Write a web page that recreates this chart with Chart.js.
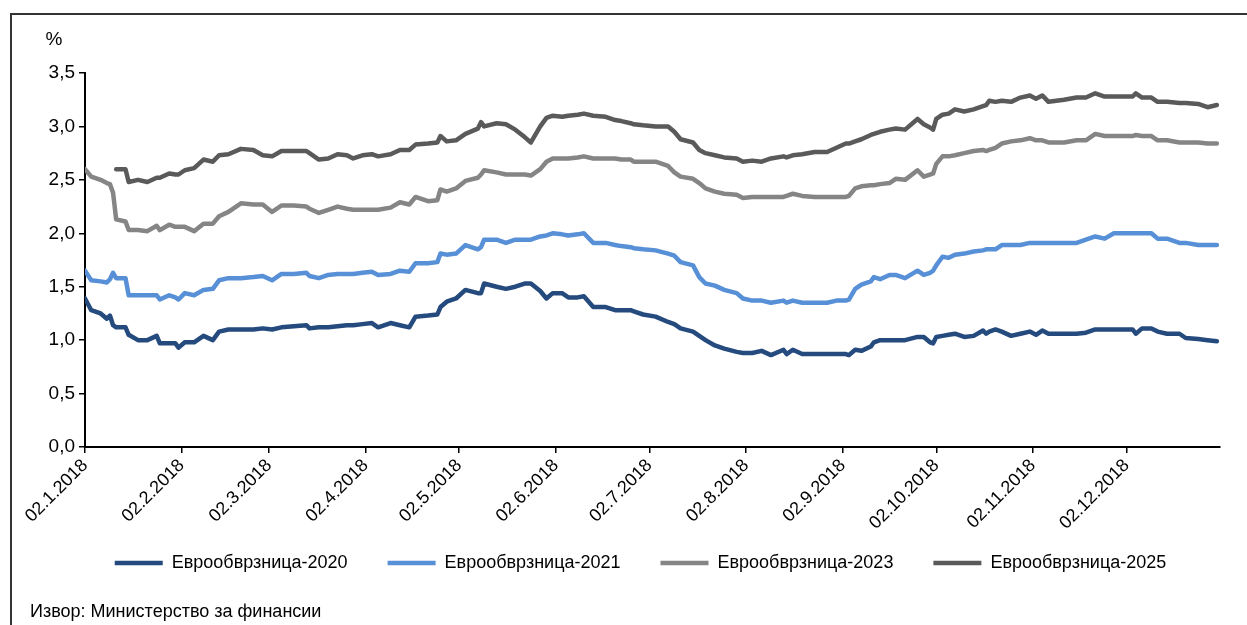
<!DOCTYPE html>
<html lang="mk">
<head>
<meta charset="utf-8">
<title>Еврообврзници</title>
<script src="https://cdn.jsdelivr.net/npm/chart.js@4.4.1/dist/chart.umd.min.js"></script>
<style>
  html, body { margin: 0; padding: 0; background: #fff; }
  .wrap { position: relative; width: 1247px; height: 625px; }
</style>
</head>
<body>
<div class="wrap"><canvas id="prinosi"></canvas></div>
<script>
// Датуми (дд.мм, 2018)
var datumi = [
  '02.01','04.01','07.01','09.01','10.01','11.01','12.01','15.01','16.01','19.01',
  '22.01','25.01','26.01','29.01','31.01','01.02','03.02','06.02','09.02','12.02',
  '14.02','17.02','21.02','25.02','28.02','03.03','06.03','10.03','14.03','15.03',
  '18.03','21.03','24.03','27.03','29.03','01.04','04.04','06.04','10.04','13.04',
  '16.04','18.04','22.04','25.04','26.04','28.04','01.05','04.05','08.05','09.05',
  '10.05','14.05','17.05','20.05','23.05','25.05','28.05','30.05','01.06','04.06',
  '06.06','09.06','11.06','14.06','18.06','21.06','23.06','26.06','27.06','30.06',
  '04.07','08.07','10.07','12.07','16.07','18.07','20.07','23.07','26.07','30.07',
  '01.08','04.08','07.08','10.08','14.08','15.08','17.08','20.08','24.08','28.08',
  '31.08','03.09','04.09','06.09','08.09','11.09','12.09','14.09','17.09','19.09',
  '22.09','26.09','28.09','30.09','01.10','02.10','04.10','06.10','08.10','11.10',
  '14.10','17.10','18.10','19.10','21.10','23.10','26.10','29.10','01.11','03.11',
  '05.11','07.11','12.11','16.11','19.11','22.11','25.11','28.11','01.12','04.12',
  '05.12','07.12','10.12','12.12','15.12','19.12','21.12','25.12','28.12','31.12'
];

// Приноси во %
var euro2020 = [
  1.39,1.28,1.25,1.20,1.23,1.14,1.12,1.12,1.05,1.00,
  1.00,1.04,0.97,0.97,0.97,0.93,0.98,0.98,1.04,1.00,
  1.08,1.10,1.10,1.10,1.11,1.10,1.12,1.13,1.14,1.11,
  1.12,1.12,1.13,1.14,1.14,1.15,1.16,1.12,1.16,1.14,
  1.12,1.22,1.23,1.24,1.31,1.36,1.39,1.47,1.44,1.44,
  1.53,1.50,1.48,1.50,1.53,1.53,1.46,1.39,1.44,1.44,
  1.40,1.40,1.41,1.31,1.31,1.28,1.28,1.28,1.27,1.24,
  1.22,1.17,1.15,1.11,1.08,1.04,1.00,0.95,0.92,0.89,
  0.88,0.88,0.90,0.86,0.91,0.87,0.91,0.87,0.87,0.87,
  0.87,0.87,0.86,0.91,0.90,0.94,0.98,1.00,1.00,1.00,
  1.00,1.03,1.03,0.98,0.97,1.03,1.04,1.05,1.06,1.03,
  1.04,1.09,1.06,1.08,1.10,1.08,1.04,1.06,1.08,1.05,
  1.09,1.06,1.06,1.06,1.07,1.10,1.10,1.10,1.10,1.10,
  1.06,1.11,1.11,1.08,1.06,1.06,1.02,1.01,1.00,0.99
];
var euro2021 = [
  1.65,1.56,1.55,1.54,1.57,1.63,1.58,1.58,1.42,1.42,
  1.42,1.42,1.38,1.42,1.40,1.38,1.44,1.42,1.47,1.48,
  1.56,1.58,1.58,1.59,1.60,1.56,1.62,1.62,1.63,1.60,
  1.58,1.61,1.62,1.62,1.62,1.63,1.64,1.61,1.62,1.65,
  1.64,1.72,1.72,1.73,1.81,1.80,1.81,1.89,1.85,1.87,
  1.94,1.94,1.91,1.94,1.94,1.94,1.97,1.98,2.00,1.99,
  1.98,1.99,2.00,1.91,1.91,1.89,1.88,1.87,1.86,1.85,
  1.84,1.81,1.79,1.73,1.70,1.59,1.53,1.51,1.47,1.44,
  1.39,1.37,1.37,1.35,1.37,1.35,1.37,1.35,1.35,1.35,
  1.37,1.37,1.38,1.48,1.52,1.55,1.59,1.57,1.61,1.61,
  1.58,1.65,1.61,1.63,1.65,1.70,1.78,1.77,1.80,1.81,
  1.83,1.84,1.85,1.85,1.85,1.89,1.89,1.89,1.91,1.91,
  1.91,1.91,1.91,1.91,1.94,1.97,1.95,2.00,2.00,2.00,
  2.00,2.00,2.00,1.95,1.95,1.91,1.91,1.89,1.89,1.89
];
var euro2023 = [
  2.60,2.53,2.50,2.47,2.46,2.38,2.13,2.11,2.03,2.03,
  2.02,2.07,2.03,2.08,2.06,2.06,2.06,2.02,2.09,2.09,
  2.16,2.20,2.28,2.27,2.27,2.20,2.26,2.26,2.25,2.23,
  2.19,2.22,2.25,2.23,2.22,2.22,2.22,2.22,2.24,2.29,
  2.27,2.34,2.30,2.31,2.41,2.39,2.42,2.49,2.52,2.55,
  2.59,2.57,2.55,2.55,2.55,2.54,2.60,2.67,2.70,2.70,
  2.70,2.71,2.72,2.70,2.70,2.70,2.69,2.69,2.67,2.67,
  2.67,2.63,2.57,2.53,2.51,2.47,2.42,2.39,2.37,2.36,
  2.33,2.34,2.34,2.34,2.34,2.35,2.37,2.35,2.34,2.34,
  2.34,2.34,2.35,2.42,2.44,2.45,2.45,2.46,2.47,2.51,
  2.50,2.59,2.53,2.55,2.56,2.65,2.72,2.72,2.73,2.75,
  2.77,2.78,2.77,2.78,2.80,2.84,2.86,2.87,2.89,2.87,
  2.87,2.85,2.85,2.87,2.87,2.93,2.91,2.91,2.91,2.91,
  2.92,2.91,2.91,2.87,2.87,2.85,2.85,2.85,2.84,2.84
];
var euro2025 = [
  null,null,null,null,null,null,2.60,2.60,2.48,2.50,
  2.48,2.52,2.52,2.56,2.55,2.55,2.59,2.61,2.69,2.67,
  2.73,2.74,2.79,2.78,2.73,2.72,2.77,2.77,2.77,2.75,
  2.69,2.70,2.74,2.73,2.70,2.73,2.74,2.72,2.74,2.78,
  2.78,2.83,2.84,2.85,2.91,2.86,2.87,2.93,2.98,3.04,
  3.00,3.03,3.02,2.97,2.90,2.85,3.00,3.08,3.10,3.09,
  3.10,3.11,3.12,3.10,3.09,3.06,3.05,3.03,3.02,3.01,
  3.00,3.00,2.95,2.88,2.85,2.78,2.75,2.73,2.71,2.70,
  2.67,2.68,2.67,2.70,2.72,2.71,2.73,2.74,2.76,2.76,
  2.80,2.84,2.84,2.86,2.88,2.92,2.93,2.95,2.97,2.98,
  2.97,3.07,3.02,2.99,2.97,3.07,3.11,3.12,3.16,3.14,
  3.16,3.19,3.20,3.24,3.23,3.24,3.23,3.27,3.29,3.26,
  3.29,3.23,3.25,3.27,3.27,3.31,3.28,3.28,3.28,3.28,
  3.31,3.27,3.27,3.23,3.23,3.22,3.22,3.21,3.18,3.20
];

// Ознаки на x-оската
var xOznaki = ['02.1.2018', '02.2.2018', '02.3.2018', '02.4.2018', '02.5.2018', '02.6.2018',
  '02.7.2018', '02.8.2018', '02.9.2018', '02.10.2018', '02.11.2018', '02.12.2018'];

var serii = ['Еврообврзница-2020', 'Еврообврзница-2021', 'Еврообврзница-2023', 'Еврообврзница-2025'];
var boi = ['#244a7e', '#5790d6', '#858585', '#5a5a5a'];

// број на денови од 02.01.2018 (годината е 2018 ако не е наведена)
var pocetok = Date.UTC(2018, 0, 2);
function den(s) {
  var p = s.split('.');
  var god = p[2] ? +p[2] : 2018;
  return (Date.UTC(god, +p[1] - 1, +p[0]) - pocetok) / 86400000;
}
var xDenovi = xOznaki.map(den);

function tocki(vrednosti) {
  return datumi.map(function (d, i) { return { x: den(d), y: vrednosti[i] }; });
}

var font = "'Liberation Sans Narrow', 'Arial Narrow', 'Liberation Sans', Arial, sans-serif";
Chart.defaults.font.family = font;
Chart.defaults.font.size = 18;
Chart.defaults.color = '#000';

// рамка, знак за процент и извор
var dodatoci = {
  id: 'dodatoci',
  beforeDraw: function (chart) {
    var ctx = chart.ctx;
    ctx.save();
    ctx.fillStyle = '#fff';
    ctx.fillRect(0, 0, chart.width, chart.height);
    ctx.strokeStyle = '#333';
    ctx.lineWidth = 2;
    ctx.beginPath();
    ctx.moveTo(11, chart.height);
    ctx.lineTo(11, 14);
    ctx.lineTo(chart.width, 14);
    ctx.stroke();
    ctx.restore();
  },
  afterDraw: function (chart) {
    var ctx = chart.ctx;
    ctx.save();
    ctx.fillStyle = '#000';
    ctx.font = '19px ' + font;
    ctx.textBaseline = 'middle';
    ctx.textAlign = 'center';
    ctx.fillText('%', 54, 40);
    ctx.textAlign = 'left';
    ctx.font = '18px ' + font;
    ctx.fillText('Извор: Министерство за финансии', 30, 612);
    ctx.restore();
  }
};

var linija = {
  pointRadius: 0,
  borderWidth: 4.5,
  tension: 0,
  borderCapStyle: 'round',
  borderJoinStyle: 'round'
};

var chart = new Chart(document.getElementById('prinosi'), {
  type: 'line',
  data: {
    datasets: [euro2020, euro2021, euro2023, euro2025].map(function (v, i) {
      return Object.assign({
        label: serii[i],
        data: tocki(v),
        borderColor: boi[i],
        backgroundColor: boi[i]
      }, linija);
    })
  },
  options: {
    responsive: true,
    maintainAspectRatio: false,
    animation: false,
    layout: { padding: { left: 34, right: 0, top: 73, bottom: 43 } },
    scales: {
      x: {
        type: 'linear',
        min: 0,
        max: den('01.01.2019'),
        afterBuildTicks: function (s) { s.ticks = xDenovi.map(function (v) { return { value: v }; }); },
        afterFit: function (s) { s.height = 85; },
        ticks: {
          autoSkip: false,
          minRotation: 45,
          maxRotation: 45,
          padding: 2,
          callback: function (v, i) { return xOznaki[i]; }
        },
        grid: { drawOnChartArea: false, tickLength: 6, color: '#000', lineWidth: 1.5 },
        border: { color: '#000', width: 2 }
      },
      y: {
        min: 0,
        max: 3.5,
        afterFit: function (s) { s.width = 51; },
        ticks: {
          stepSize: 0.5,
          padding: 4,
          font: { size: 19 },
          callback: function (v) { return v.toFixed(1).replace('.', ','); }
        },
        grid: { drawOnChartArea: false, tickLength: 6, color: '#000', lineWidth: 1.5 },
        border: { color: '#000', width: 2 }
      },
      desno: {
        position: 'right',
        afterFit: function (s) { s.width = 27; },
        ticks: { display: false },
        grid: { display: false },
        border: { display: false }
      }
    },
    plugins: {
      legend: {
        position: 'bottom',
        labels: {
          usePointStyle: true,
          pointStyle: 'line',
          pointStyleWidth: 48,
          padding: 22,
          color: '#000',
          font: { size: 18 },
          // поширок размак меѓу ставките (освен по последната)
          generateLabels: function (chart) {
            var stavki = Chart.defaults.plugins.legend.labels.generateLabels(chart);
            return stavki.map(function (l, i) {
              if (i < stavki.length - 1) l.text = l.text + '\u2002\u2002';
              return l;
            });
          }
        }
      },
      tooltip: { enabled: false }
    }
  },
  plugins: [dodatoci]
});
</script>
</body>
</html>
